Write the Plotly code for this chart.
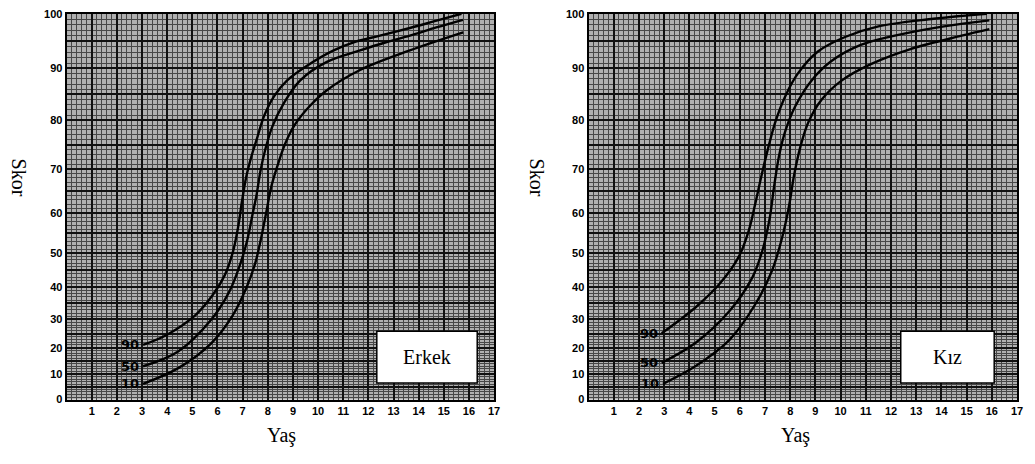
import numpy as np
import plotly.graph_objects as go

# ---------------- data ----------------
# Erkek (boys) percentile curves: age (Yaş) vs score (Skor)
erkek_p90_age = [3.04, 4.03, 5.10, 5.81, 6.28, 6.60, 6.82, 6.98, 7.15, 7.35, 7.59, 7.86, 8.26, 8.77, 9.56, 10.62, 11.5, 12.46, 13.65, 14.6, 15.7]
erkek_p90_score = [21.0, 24.8, 31.2, 37.6, 43.4, 50.0, 56.5, 62.9, 68.4, 72.6, 76.6, 80.9, 84.7, 87.7, 90.5, 93.3, 94.9, 96.0, 97.4, 98.6, 100.0]
erkek_p50_age = [3.04, 4.42, 5.73, 6.48, 6.91, 7.19, 7.39, 7.55, 7.71, 7.90, 8.18, 8.65, 9.29, 10.35, 11.67, 12.7, 13.65, 14.7, 15.76]
erkek_p50_score = [13.0, 18.5, 29.7, 38.8, 46.9, 53.4, 59.6, 64.0, 69.6, 74.0, 78.7, 83.4, 87.7, 91.2, 93.3, 94.8, 96.0, 97.5, 98.9]
erkek_p10_age = [3.04, 4.42, 5.73, 6.60, 7.19, 7.51, 7.74, 7.94, 8.14, 8.38, 8.69, 9.09, 9.68, 10.35, 11.67, 13.65, 15.77]
erkek_p10_score = [6.2, 12.2, 21.4, 31.2, 40.6, 47.3, 53.9, 60.2, 66.0, 70.6, 75.2, 79.2, 82.8, 85.8, 89.7, 93.3, 96.6]

# Kız (girls) percentile curves
kiz_p90_age = [2.9, 4.25, 5.2, 5.95, 6.35, 6.6, 6.88, 7.15, 7.42, 7.8, 8.3, 9.1, 10.2, 11.5, 13.5, 15.8]
kiz_p90_score = [25.1, 33.8, 41.0, 48.8, 55.5, 61.8, 69.0, 74.8, 79.8, 84.6, 89.0, 93.1, 95.8, 97.7, 99.0, 100.0]
kiz_p50_age = [2.9, 4.25, 5.6, 6.5, 6.9, 7.18, 7.36, 7.56, 7.82, 8.2, 8.85, 9.65, 10.8, 12.15, 14.1, 15.9]
kiz_p50_score = [14.3, 21.8, 32.7, 42.9, 50.7, 58.5, 66.0, 72.8, 78.0, 82.7, 87.7, 91.4, 94.3, 96.0, 97.7, 98.8]
kiz_p10_age = [2.95, 4.25, 5.6, 6.62, 7.28, 7.68, 7.95, 8.15, 8.4, 8.72, 9.25, 10.05, 11.2, 12.8, 14.8, 15.9]
kiz_p10_score = [6.2, 13.1, 22.9, 34.8, 44.9, 53.9, 61.5, 68.5, 74.5, 79.6, 84.0, 87.7, 90.8, 93.6, 96.0, 97.2]

percentile_labels = ["90", "50", "10"]
panel_titles = ["Erkek", "Kız"]
x_tick_labels = [str(i) for i in range(1, 18)]
score_ticks = [0, 10, 20, 30, 40, 50, 60, 70, 80, 90, 100]

# ------------- non-linear score scale of the chart paper -------------
# relative axis position of each score tick (0 = bottom, 100 = top)
score_tick_pos = [0.0, 6.58, 13.42, 20.76, 29.11, 37.97, 48.35, 59.75, 72.41, 85.82, 100.0]


def to_axis(s):
    return np.interp(np.asarray(s, dtype=float), score_ticks, score_tick_pos)


panels = [
    ("x", "y", [(erkek_p90_age, erkek_p90_score), (erkek_p50_age, erkek_p50_score),
                (erkek_p10_age, erkek_p10_score)]),
    ("x2", "y2", [(kiz_p90_age, kiz_p90_score), (kiz_p50_age, kiz_p50_score),
                  (kiz_p10_age, kiz_p10_score)]),
]

# the page's body margin is removed (post_script), so screen px == figure px
W, H = 1035, 464


def px(x):
    return x / W


def py(y):
    return 1 - y / H


fig = go.Figure()
annotations = []
shapes = []
for (xa, ya, curves) in panels:
    for lab, (ages, scores) in zip(percentile_labels, curves):
        fig.add_trace(go.Scatter(
            x=ages, y=to_axis(scores), customdata=scores, xaxis=xa, yaxis=ya,
            mode="lines", line=dict(color="black", width=2.4, shape="spline", smoothing=1.0),
            name=lab, showlegend=False,
            hovertemplate="Yaş %{x}<br>Skor %{customdata}<extra>" + lab + "</extra>",
        ))
        annotations.append(dict(
            x=ages[0] - 0.08, y=float(to_axis(scores[0])), xref=xa, yref=ya,
            xanchor="right", yanchor="middle",
            text="<b>" + lab + "</b>", showarrow=False,
            font=dict(family="DejaVu Sans", size=13, color="black"),
        ))

left_dom = [px(67), px(497)]
right_dom = [px(592), px(1023)]
y_dom = [py(404), py(8)]

minor_y = list(to_axis(np.arange(0, 101, 1)))
major_y = list(to_axis(np.arange(0, 101, 5)))
major_y_text = [str(v) if v % 10 == 0 else "" for v in range(0, 101, 5)]

tickfont = dict(family="Liberation Sans", size=11, color="black", weight="bold")

xaxis_common = dict(
    range=[0, 17], tickmode="array", tickvals=list(range(1, 18)), ticktext=x_tick_labels,
    showgrid=True, gridcolor="#111111", gridwidth=1.5,
    minor=dict(dtick=0.2, tick0=0, showgrid=True, gridcolor="#474747", gridwidth=1),
    showline=True, linecolor="black", linewidth=2, mirror=True,
    ticks="", tickfont=tickfont, zeroline=False, fixedrange=True,
)
yaxis_common = dict(
    range=[0, 100], tickmode="array", tickvals=major_y, ticktext=major_y_text,
    showgrid=True, gridcolor="#111111", gridwidth=1.5,
    minor=dict(tickmode="array", tickvals=minor_y, showgrid=True, gridcolor="#474747", gridwidth=1),
    showline=True, linecolor="black", linewidth=2, mirror=True,
    ticks="", tickfont=tickfont, zeroline=False, fixedrange=True,
)

fig.update_layout(
    width=W, height=H, margin=dict(l=0, r=0, t=0, b=0),
    paper_bgcolor="white", plot_bgcolor="#b0b0b0",
    xaxis=dict(domain=left_dom, anchor="y", **xaxis_common),
    yaxis=dict(domain=y_dom, anchor="x", **yaxis_common),
    xaxis2=dict(domain=right_dom, anchor="y2", **xaxis_common),
    yaxis2=dict(domain=y_dom, anchor="x2", **yaxis_common),
)

serif = dict(family="Liberation Serif", size=20, color="black")
for cx in [283, 800]:
    annotations.append(dict(x=px(cx), y=py(441), xref="paper", yref="paper",
                            xanchor="center", yanchor="middle",
                            text="Yaş", showarrow=False, font=serif))
for cx in [19, 540]:
    annotations.append(dict(x=px(cx), y=py(176), xref="paper", yref="paper",
                            xanchor="center", yanchor="middle",
                            text="Skor", showarrow=False, textangle=90, font=serif))

for (x0, x1, title) in [(379, 480, panel_titles[0]), (906, 1000, panel_titles[1])]:
    shapes.append(dict(type="rect", xref="paper", yref="paper",
                       x0=px(x0), x1=px(x1), y0=py(387), y1=py(334),
                       fillcolor="white", line=dict(color="black", width=1.5), layer="above"))
    annotations.append(dict(x=px((x0 + x1) / 2), y=py(360), xref="paper", yref="paper",
                            xanchor="center", yanchor="middle",
                            text=title, showarrow=False, font=serif))

fig.update_layout(annotations=annotations, shapes=shapes)
fig.write_html("out.html", config={"displayModeBar": False},
               post_script="document.body.style.margin='0px';document.body.style.overflow='hidden';")
